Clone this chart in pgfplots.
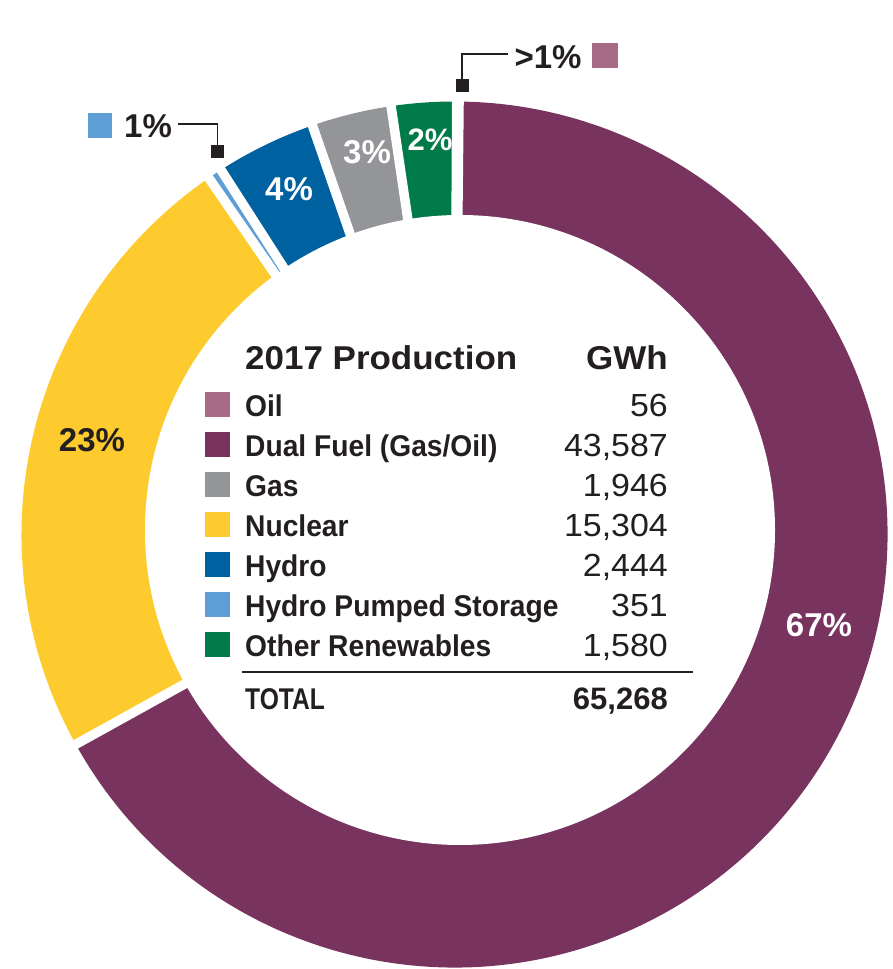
\documentclass[border=0pt]{standalone}
\usepackage{pgfplots}
\pgfplotsset{compat=1.18}
\usepackage{pgfplotstable}
\usepackage{fontspec}
\setmainfont{Liberation Sans}
\newfontfamily\condfont[FakeStretch=0.94]{Liberation Sans}
\newfontfamily\totfont[FakeStretch=0.82]{Liberation Sans}
\newfontfamily\numfont[FakeStretch=1.06]{Liberation Sans}
\newfontfamily\titlefont[FakeStretch=1.06]{Liberation Sans}

\definecolor{cdual}{HTML}{78345E}
\definecolor{cnuc}{HTML}{FDCB2E}
\definecolor{chydro}{HTML}{0061A0}
\definecolor{cgas}{HTML}{939598}
\definecolor{cother}{HTML}{007A48}
\definecolor{chps}{HTML}{5E9ED6}
\definecolor{coil}{HTML}{A86B86}
\definecolor{ctext}{HTML}{231F20}

% ring order: counterclockwise from the top
\pgfplotstableread{
source value col
Oil 56 coil
Other 1580 cother
Gas 1946 cgas
Hydro 2444 chydro
HPS 351 chps
Nuclear 15304 cnuc
Dual 43587 cdual
}\ringdata

\def\ringstart{89.4}
\def\ringtotal{65268}
\def\cx{454.5}\def\cy{434.5}

\begin{document}
\begin{tikzpicture}
\useasboundingbox (0,0) rectangle (893pt,969pt);
\begin{axis}[at={(0,0)},anchor=south west,x=1pt,y=1pt,xmin=0,xmax=893,ymin=0,ymax=969,
  scale only axis,hide axis,ticks=none,clip=false]
\pgfplotsextra{%
 \def\cum{0}%
 \pgfplotsforeachungrouped \i in {0,...,6}{%
   \pgfplotstablegetelem{\i}{value}\of{\ringdata}\let\sval\pgfplotsretval
   \pgfplotstablegetelem{\i}{col}\of{\ringdata}\let\scol\pgfplotsretval
   \edef\sa{\fpeval{round(\ringstart+360*\cum/\ringtotal,4)}}%
   \edef\cum{\fpeval{\cum+\sval}}%
   \edef\sb{\fpeval{round(\ringstart+360*\cum/\ringtotal,4)}}%
   \fill[fill=\scol] (axis cs:\cx,\cy) -- ++(\sa:433pt) arc[start angle=\sa,end angle=\sb,radius=433pt] -- cycle;
 }%
 \def\cum{0}%
 \pgfplotsforeachungrouped \i in {0,...,6}{%
   \pgfplotstablegetelem{\i}{value}\of{\ringdata}\let\sval\pgfplotsretval
   \edef\cum{\fpeval{\cum+\sval}}%
   \edef\sb{\fpeval{round(\ringstart+360*\cum/\ringtotal,4)}}%
   \draw[white,line width=9.5pt] (axis cs:\cx,\cy) ++(\sb:240pt) -- ++(\sb:205pt);
 }%
 \fill[white] (axis cs:460,439) circle[radius=315pt];
 % percent labels
 \node[text=white,font=\bfseries\fontsize{33}{33}\selectfont,inner sep=0] at (axis cs:819,344) {67\%};
 \node[text=ctext,font=\bfseries\fontsize{33}{33}\selectfont,inner sep=0] at (axis cs:92,529) {23\%};
 \node[text=white,font=\bfseries\fontsize{33}{33}\selectfont,inner sep=0] at (axis cs:289,780) {4\%};
 \node[text=white,font=\bfseries\fontsize{33}{33}\selectfont,inner sep=0] at (axis cs:367,817) {3\%};
 \node[text=white,font=\bfseries\fontsize{31}{31}\selectfont,inner sep=0] at (axis cs:430,829) {2\%};
 % callouts
 \fill[chps] (axis cs:88,831) rectangle (axis cs:112,856);
 \node[text=ctext,font=\bfseries\fontsize{33}{33}\selectfont,inner sep=0] at (axis cs:148,843) {1\%};
 \draw[ctext,line width=1.6pt] (axis cs:178,845) -- (axis cs:217.5,845) -- (axis cs:217.5,817);
 \fill[ctext] (axis cs:211,811) rectangle (axis cs:224,823.5);
 \fill[coil] (axis cs:592,901) rectangle (axis cs:618,926);
 \node[text=ctext,font=\bfseries\fontsize{33}{33}\selectfont,inner sep=0] at (axis cs:548,912) {>1\%};
 \draw[ctext,line width=1.6pt] (axis cs:508,915) -- (axis cs:462,915) -- (axis cs:462,887);
 \fill[ctext] (axis cs:456,877) rectangle (axis cs:468.5,890);
 % table
 \node[anchor=base west,text=ctext,inner sep=0,font=\titlefont\bfseries\fontsize{33}{33}\selectfont] at (axis cs:245,599) {2017 Production};
 \node[anchor=base east,text=ctext,inner sep=0,font=\titlefont\bfseries\fontsize{33}{33}\selectfont] at (axis cs:668,599) {GWh};
 \fill[coil]   (axis cs:205,551.5) rectangle (axis cs:230,576.5);
 \fill[cdual]  (axis cs:205,511.5) rectangle (axis cs:230,536.5);
 \fill[cgas]   (axis cs:205,471.5) rectangle (axis cs:230,496.5);
 \fill[cnuc]   (axis cs:205,431.5) rectangle (axis cs:230,456.5);
 \fill[chydro] (axis cs:205,391.5) rectangle (axis cs:230,416.5);
 \fill[chps]   (axis cs:205,351.5) rectangle (axis cs:230,376.5);
 \fill[cother] (axis cs:205,311.5) rectangle (axis cs:230,336.5);
 \foreach \yy/\lab in {552/Oil,512/{Dual Fuel (Gas/Oil)},472/Gas,432/Nuclear,392/Hydro,352/Hydro Pumped Storage,312/Other Renewables}{
   \node[anchor=base west,text=ctext,inner sep=0,font=\condfont\bfseries\fontsize{30}{30}\selectfont] at (axis cs:245,\yy) {\lab};
 }
 \foreach \yy/\num in {552/56,512/{43,587},472/{1,946},432/{15,304},392/{2,444},352/351,312/{1,580}}{
   \node[anchor=base east,text=ctext,inner sep=0,font=\numfont\fontsize{32}{32}\selectfont] at (axis cs:668,\yy) {\num};
 }
 \draw[ctext,line width=1.8pt] (axis cs:242,297) -- (axis cs:693,297);
 \node[anchor=base west,text=ctext,inner sep=0,font=\totfont\bfseries\fontsize{30}{30}\selectfont] at (axis cs:245,259) {TOTAL};
 \node[anchor=base east,text=ctext,inner sep=0,font=\bfseries\fontsize{31}{31}\selectfont] at (axis cs:668,259) {65,268};
}
\end{axis}
\end{tikzpicture}
\end{document}
